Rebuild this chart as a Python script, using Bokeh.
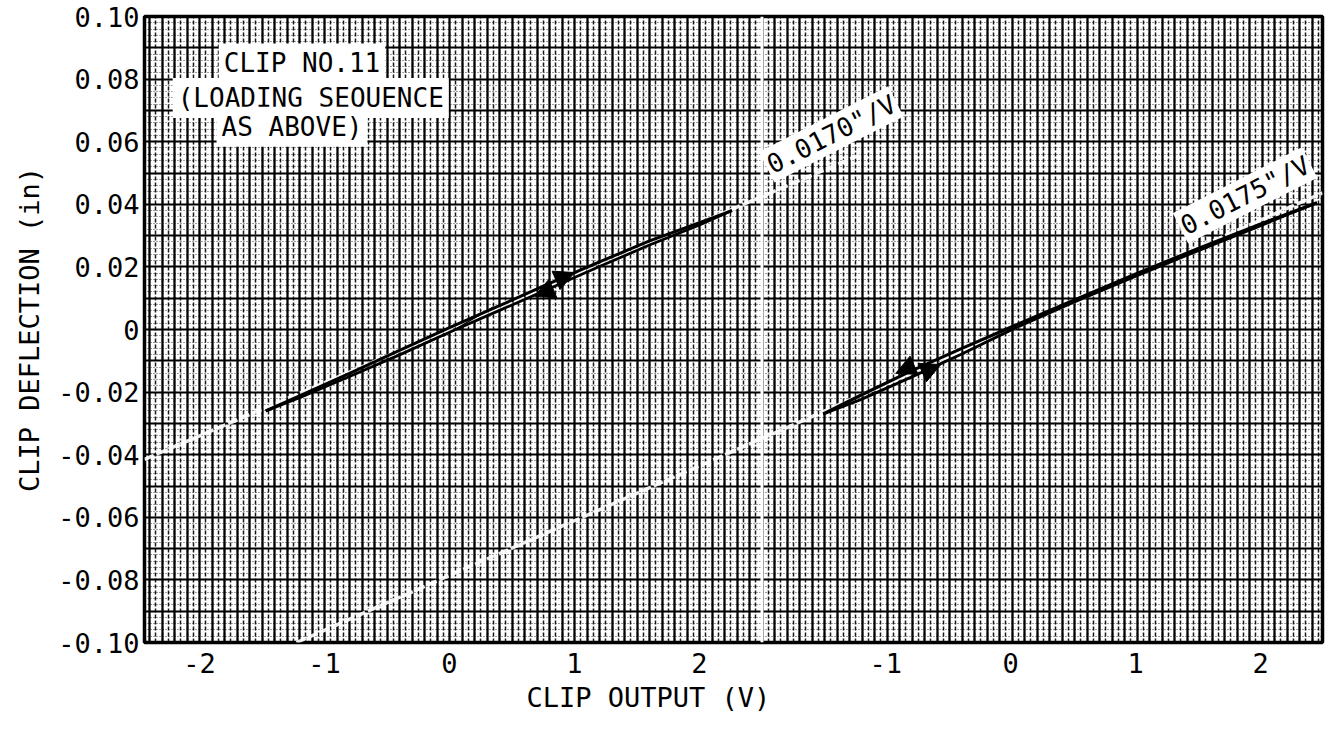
import math
from bokeh.plotting import figure
from bokeh.models import (FixedTicker, SingleIntervalTicker, Label, Span, Title,
                          Arrow, NormalHead)
from bokeh.embed import file_html
from bokeh.resources import INLINE

# ---------------- data ----------------
# Left panel loop (clip output V, clip deflection in)
LEFT_UP_X = [-1.47, -1.2, -0.8, -0.4, 0.0, 0.4, 0.8, 1.2, 1.6, 2.0, 2.26]
LEFT_UP_Y = [-0.0260, -0.0212, -0.0140, -0.0067, 0.0006, 0.0076, 0.0147, 0.0216, 0.0283, 0.0341, 0.0380]
LEFT_DN_X = [2.26, 2.0, 1.6, 1.2, 0.8, 0.4, 0.0, -0.4, -0.8, -1.2, -1.47]
LEFT_DN_Y = [0.0380, 0.0334, 0.0270, 0.0201, 0.0131, 0.0061, -0.0009, -0.0081, -0.0150, -0.0218, -0.0260]
LEFT_START_X = [-0.05, 0.35]
LEFT_START_Y = [-0.0022, 0.0072]

# Right panel loop
RIGHT_UP_X = [-1.50, -1.2, -0.8, -0.4, 0.0, 0.5, 1.0, 1.5, 2.0, 2.45]
RIGHT_UP_Y = [-0.0270, -0.0210, -0.0133, -0.0062, 0.0007, 0.0093, 0.0177, 0.0259, 0.0337, 0.0405]
RIGHT_DN_X = [2.45, 2.0, 1.5, 1.0, 0.5, 0.0, -0.4, -0.8, -1.2, -1.50]
RIGHT_DN_Y = [0.0405, 0.0332, 0.0252, 0.0170, 0.0086, -0.0002, -0.0080, -0.0153, -0.0224, -0.0270]

# arrowheads: tip position (V, in) and direction (+1 = loading, -1 = unloading)
LEFT_ARROW_X = [1.00, 0.68]
LEFT_ARROW_Y = [0.0182, 0.0106]
LEFT_ARROW_DIR = [1, -1]
RIGHT_ARROW_X = [-0.92, -0.56]
RIGHT_ARROW_Y = [-0.0140, -0.0112]
RIGHT_ARROW_DIR = [-1, 1]

# calibration slopes (in/V)
SLOPE_LEFT = 0.0170
SLOPE_RIGHT = 0.0175
SLOPE_LEFT_TEXT = '0.0170"/V'
SLOPE_RIGHT_TEXT = '0.0175"/V'

# ticks
X_TICKS_LEFT = [-2, -1, 0, 1, 2]
X_TICKS_RIGHT = [-1, 0, 1, 2]
Y_TICKS = [-0.10, -0.08, -0.06, -0.04, -0.02, 0, 0.02, 0.04, 0.06, 0.08, 0.10]
Y_TICK_LABELS = ["-0.10", "-0.08", "-0.06", "-0.04", "-0.02", "0",
                 "0.02", "0.04", "0.06", "0.08", "0.10"]

NOTE_LINES = ["CLIP NO.11", "(LOADING SEQUENCE", "AS ABOVE)"]

# ---------------- layout ----------------
OFFSET = 4.49          # right panel origin in left-panel units
X_START, X_END = -2.44, 6.984
Y_START, Y_END = -0.10, 0.10
FONT = "DejaVu Sans Mono"
FS = "26px"
TICK_FS = "27px"
FRAME_W, FRAME_H = 1178, 626

p = figure(frame_width=FRAME_W, frame_height=FRAME_H,
           x_range=(X_START, X_END), y_range=(Y_START, Y_END),
           output_backend="svg", toolbar_location=None,
           min_border_left=144, min_border_right=12,
           min_border_top=16, min_border_bottom=84,
           background_fill_color="white", border_fill_color="white")

p.outline_line_color = "black"
p.outline_line_width = 3.5

# graph-paper grid
p.xgrid.ticker = SingleIntervalTicker(interval=0.1, num_minor_ticks=2)
p.xgrid.grid_line_color = "black"
p.xgrid.grid_line_width = 2.2
p.xgrid.minor_grid_line_color = "black"
p.xgrid.minor_grid_line_width = 1.5
p.xgrid.minor_grid_line_dash = "4 2"
p.xgrid.minor_grid_line_alpha = 0.9

p.ygrid.ticker = SingleIntervalTicker(interval=0.01, num_minor_ticks=5)
p.ygrid.grid_line_color = "black"
p.ygrid.grid_line_width = 2
p.ygrid.minor_grid_line_color = "black"
p.ygrid.minor_grid_line_width = 1.2
p.ygrid.minor_grid_line_dash = "1 2"
p.ygrid.minor_grid_line_alpha = 0.75

# axes
x_ticks = [float(t) for t in X_TICKS_LEFT] + [t + OFFSET for t in X_TICKS_RIGHT]
x_labels = {float(t): str(t) for t in X_TICKS_LEFT}
for t in X_TICKS_RIGHT:
    x_labels[t + OFFSET] = str(t)
p.xaxis.ticker = FixedTicker(ticks=x_ticks)
p.xaxis.major_label_overrides = x_labels
p.yaxis.ticker = FixedTicker(ticks=Y_TICKS)
p.yaxis.major_label_overrides = dict(zip(Y_TICKS, Y_TICK_LABELS))

for ax in (p.xaxis, p.yaxis):
    ax.axis_line_color = None
    ax.major_tick_line_color = None
    ax.minor_tick_line_color = None
    ax.major_tick_out = 0
    ax.major_tick_in = 0
    ax.minor_tick_out = 0
    ax.minor_tick_in = 0
    ax.major_label_text_font = FONT
    ax.major_label_text_font_size = TICK_FS
    ax.major_label_text_color = "black"
p.xaxis.major_label_standoff = 10
p.yaxis.major_label_standoff = 5

p.yaxis.axis_label = "CLIP DEFLECTION (in)"
p.yaxis.axis_label_text_font = FONT
p.yaxis.axis_label_text_font_size = "27px"
p.yaxis.axis_label_text_font_style = "normal"
p.yaxis.axis_label_text_color = "black"
p.yaxis.axis_label_standoff = 10

# x-axis title, sitting under the right half of the left panel
p.add_layout(Title(text="CLIP OUTPUT (V)", align="left", offset=382, standoff=8,
                   text_font=FONT, text_font_size="27px", text_font_style="normal",
                   text_color="black"), "below")

# panel divider
p.add_layout(Span(location=2.5, dimension="height", line_color="white", line_width=3))

# calibration reference lines (white streaks on the paper)
lx = [X_START, 3.3]
p.line(lx, [SLOPE_LEFT * x for x in lx], line_color="white", line_width=3.5,
       line_dash="10 3", line_alpha=0.9)
rx0 = -0.10 / SLOPE_RIGHT
rx = [rx0, X_END - OFFSET]
p.line([x + OFFSET for x in rx], [SLOPE_RIGHT * x for x in rx], line_color="white",
       line_width=3.5, line_dash="10 3", line_alpha=0.9)

# hysteresis loops
p.line(LEFT_UP_X, LEFT_UP_Y, line_color="black", line_width=3)
p.line(LEFT_DN_X, LEFT_DN_Y, line_color="black", line_width=2.8)
p.line(LEFT_START_X, LEFT_START_Y, line_color="black", line_width=1.3)
p.line([x + OFFSET for x in RIGHT_UP_X], RIGHT_UP_Y, line_color="black", line_width=3.2)
p.line([x + OFFSET for x in RIGHT_DN_X], RIGHT_DN_Y, line_color="black", line_width=2.8)


# arrowheads pointing along each loop branch
def add_arrows(xs, ys, dirs, slope, shift):
    for x, y, d in zip(xs, ys, dirs):
        back = 0.12 * d
        p.add_layout(Arrow(end=NormalHead(size=20, fill_color="black", line_color="black",
                                          line_width=1),
                           x_start=x - back + shift, y_start=y - back * slope,
                           x_end=x + shift, y_end=y,
                           line_alpha=0))


add_arrows(LEFT_ARROW_X, LEFT_ARROW_Y, LEFT_ARROW_DIR, SLOPE_LEFT, 0.0)
add_arrows(RIGHT_ARROW_X, RIGHT_ARROW_Y, RIGHT_ARROW_DIR, SLOPE_RIGHT, OFFSET)

# annotations
note_pos = [(-1.18, 0.0850), (-1.11, 0.0740), (-1.26, 0.0648)]
for txt, (nx, ny) in zip(NOTE_LINES, note_pos):
    p.add_layout(Label(x=nx, y=ny, text=txt, text_align="center", text_baseline="middle",
                       text_font=FONT, text_font_size=FS, text_color="black",
                       background_fill_color="white", padding=5))

p.add_layout(Label(x=2.60, y=0.0470, text=SLOPE_LEFT_TEXT, angle=27, angle_units="deg",
                   text_align="left", text_baseline="bottom", text_font=FONT,
                   text_font_size=FS, text_color="black",
                   background_fill_color="white", padding=2))
p.add_layout(Label(x=1.42 + OFFSET, y=0.0275, text=SLOPE_RIGHT_TEXT, angle=27, angle_units="deg",
                   text_align="left", text_baseline="bottom", text_font=FONT,
                   text_font_size=FS, text_color="black",
                   background_fill_color="white", padding=2))

open("out.html", "w").write(file_html(p, INLINE))
